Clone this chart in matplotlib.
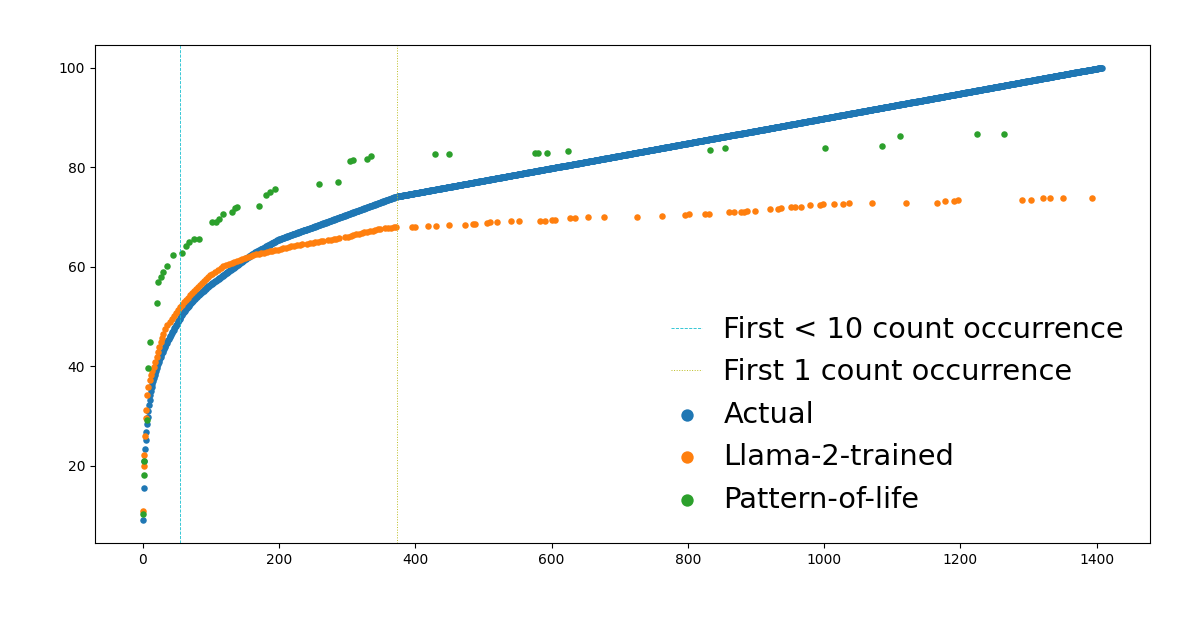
import numpy as np
import matplotlib
matplotlib.use("Agg")
import matplotlib.pyplot as plt

# ---------------- data ----------------
# Actual: counts of ranked items (run-length encoded: count value, number of items)
actual_counts = [362, 256, 219, 100, 70, 68, 60, 58, 50, 45, 40, 38,
                 34, 30, 27, 25, 23, 21, 20, 19, 18, 17,
                 16, 16, 15, 15, 14, 14, 13, 13, 13, 12,
                 12, 12, 12, 11, 11, 11, 11, 11, 11,
                 10, 9, 8, 7, 6, 5, 4, 3, 2, 1]
actual_repeats = [1] * 41 + [13, 5, 5, 6, 8, 20, 62, 40, 173, 1036]

# Llama-2-trained (rank, cumulative %)
llama_x = [0, 1, 2, 3, 4, 5, 6, 8, 10,
           12, 14, 16, 18, 20, 22, 24, 26, 28, 30, 33, 36, 39, 42, 45, 48, 51, 54,
           57, 60, 63, 66, 69, 72, 75, 78, 81, 84, 87, 90, 93, 96, 99, 102, 106,
           110, 114, 118, 122, 126, 130, 134, 138, 142, 146, 150, 154, 158, 162,
           166, 170, 174, 178, 182, 186, 190, 194, 198, 202, 206, 210, 214, 218,
           222, 226, 230, 234,
           241, 245, 249, 253, 257, 261, 264,
           272, 276, 280, 284, 288,
           297, 301, 305, 309, 313, 317, 321, 325, 329, 333, 337, 341, 345, 348,
           355, 360, 364, 368, 372,
           395, 400, 419, 430, 450, 473, 484, 488, 505, 510, 520, 540, 552, 583,
           590, 600, 605, 627, 635, 654, 677, 725, 762, 796, 801, 825, 831, 860,
           867, 878, 882, 887, 899, 920, 933, 936, 952, 957, 966, 979, 994, 998,
           1015, 1027, 1036, 1070, 1120, 1166, 1178, 1190, 1197, 1291, 1303, 1321,
           1332, 1350, 1393]
llama_y = [10.9, 20.0, 22.2, 26.1, 29.7, 31.3, 34.3, 35.8, 37.3,
           38.2, 39.0, 39.9, 40.9, 41.9, 42.9, 43.8, 44.8, 45.7, 46.5, 47.4, 48.2,
           48.9, 49.5, 50.1, 50.7, 51.3, 51.9,
           52.4, 52.9, 53.4, 53.8, 54.3, 54.8, 55.2, 55.6, 56.0, 56.4, 56.8, 57.2,
           57.6, 58.0, 58.3, 58.6, 59.0,
           59.4, 59.8, 60.1, 60.4, 60.6, 60.8, 61.0, 61.2, 61.4, 61.5, 61.7, 61.9,
           62.1, 62.3, 62.5, 62.6, 62.7, 62.8, 63.0, 63.1, 63.2, 63.3, 63.4, 63.5,
           63.7, 63.8, 64.0, 64.1, 64.2, 64.3, 64.4, 64.5,
           64.6, 64.8, 64.8, 64.9, 65.0, 65.1, 65.1,
           65.3, 65.4, 65.5, 65.6, 65.7,
           65.9, 66.0, 66.2, 66.3, 66.5, 66.6, 66.8, 66.9, 67.0, 67.1, 67.2, 67.4,
           67.5, 67.6,
           67.7, 67.8, 67.8, 67.9, 67.9,
           68.0, 68.0, 68.1, 68.1, 68.4, 68.4, 68.6, 68.6, 68.8, 68.9, 68.9, 69.1,
           69.1, 69.2, 69.2, 69.4, 69.4, 69.7, 69.7, 70.0, 70.0, 70.0, 70.2, 70.3,
           70.6, 70.6, 70.6, 71.0, 71.0, 71.0, 71.1, 71.2, 71.2, 71.6, 71.6, 71.8,
           72.0, 72.1, 72.1, 72.4, 72.5, 72.7, 72.7, 72.7, 72.9, 72.9, 72.9, 72.9,
           73.2, 73.2, 73.5, 73.5, 73.5, 73.9, 73.9, 73.9, 73.9]

# Pattern-of-life (rank, cumulative %)
pol_x = [0, 1, 2, 6, 8, 11, 21, 22, 26, 30, 36, 44, 58, 63, 68, 75, 83, 101,
         107, 112, 118, 130, 135, 138, 170, 181, 187, 194, 259, 287, 304, 309,
         329, 335, 429, 449, 576, 580, 593, 624, 832, 855, 1002, 1085, 1112,
         1224, 1264]
pol_y = [10.3, 18.2, 20.9, 29.3, 39.6, 44.8, 52.8, 56.9, 57.9, 58.9, 60.1,
         62.3, 62.7, 64.1, 65.0, 65.5, 65.5, 69.0, 69.0, 69.5, 70.5, 71.0, 71.8,
         72.0, 72.2, 74.5, 75.0, 75.7, 76.7, 77.0, 81.2, 81.5, 81.7, 82.2, 82.6,
         82.6, 82.8, 82.8, 82.8, 83.2, 83.4, 83.9, 83.9, 84.2, 86.2, 86.6, 86.6]

first_lt10 = 54
first_one = 373

# ---------------- derived ----------------
counts = np.repeat(actual_counts, actual_repeats)
actual_y = np.cumsum(counts) / counts.sum() * 100
actual_x = np.arange(len(counts))

# ---------------- plot ----------------
fig = plt.figure(figsize=(11.96, 6.18), dpi=100)
ax = fig.add_axes([95 / 1196, 1 - 543 / 618, (1150 - 95) / 1196, (543 - 45) / 618])

l1 = ax.axvline(first_lt10, color='tab:cyan', ls='--', lw=0.6,
                label='First < 10 count occurrence')
l2 = ax.axvline(first_one, color='tab:olive', ls=':', lw=0.7,
                label='First 1 count occurrence')
s1 = ax.scatter(actual_x, actual_y, s=22, linewidths=0, color='tab:blue', label='Actual')
s2 = ax.scatter(llama_x, llama_y, s=22, linewidths=0, color='tab:orange',
                label='Llama-2-trained')
s3 = ax.scatter(pol_x, pol_y, s=22, linewidths=0, color='tab:green',
                label='Pattern-of-life')

ax.tick_params(labelsize=10)
ax.set_yticks([20, 40, 60, 80, 100])

ax.legend(handles=[l1, l2, s1, s2, s3], loc='lower right',
          bbox_to_anchor=(1.0, 0.007), frameon=False,
          fontsize=20.8, handlelength=1.05, markerscale=1.9, labelspacing=0.5,
          handletextpad=0.75)

fig.savefig('out.png', dpi=100)
